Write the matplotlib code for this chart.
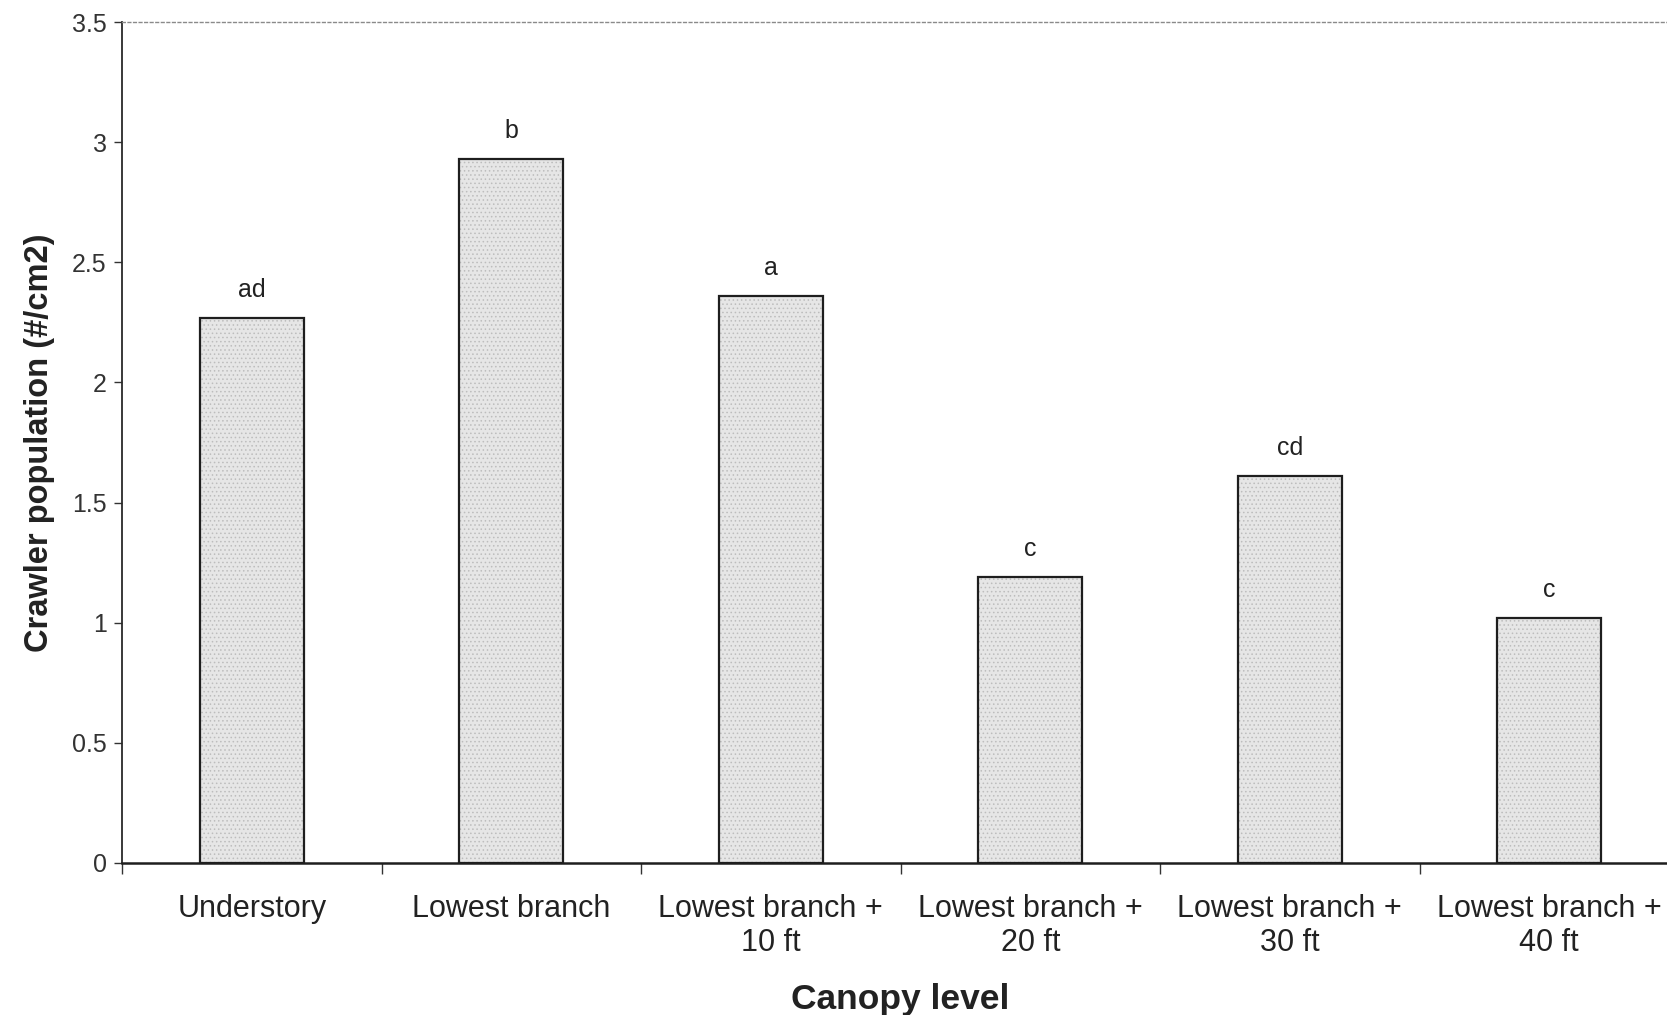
import matplotlib
matplotlib.use("Agg")
import matplotlib.pyplot as plt
import numpy as np

# Crawler counts by canopy level
categories = ["Understory", "Lowest branch", "Lowest branch +\n10 ft",
              "Lowest branch +\n20 ft", "Lowest branch +\n30 ft",
              "Lowest branch +\n40 ft"]
crawlers = [2.27, 2.93, 2.36, 1.19, 1.61, 1.02]
groups = ["ad", "b", "a", "c", "cd", "c"]
yticks = [0, 0.5, 1, 1.5, 2, 2.5, 3, 3.5]
ytick_labels = ["0", "0.5", "1", "1.5", "2", "2.5", "3", "3.5"]

plt.rcParams["font.family"] = ["Liberation Sans", "DejaVu Sans"]
plt.rcParams["hatch.linewidth"] = 0.6

fig = plt.figure(figsize=(16.67, 10.15), dpi=100)
ax = fig.add_axes([0.0732, 0.1498, 0.934, 0.8285])

x = np.arange(len(categories))
width = 0.40

# stippled fill, then crisp outlines
ax.bar(x, crawlers, width=width, color="#e6e6e6", edgecolor="#bdbdbd",
       hatch="....", linewidth=0, zorder=2)
ax.bar(x, crawlers, width=width, fill=False, edgecolor="#1e1e1e",
       linewidth=1.6, zorder=3)

for xi, v, g in zip(x, crawlers, groups):
    ax.annotate(g, (xi, v), xytext=(0, 15), textcoords="offset points",
                ha="center", va="baseline", fontsize=18, color="#222222")

ax.set_xlim(-0.5, len(categories) - 0.5)
ax.set_ylim(0, 3.5)

ax.set_yticks(yticks)
ax.set_yticklabels(ytick_labels, fontsize=18, color="#333333")
ax.tick_params(axis="y", direction="out", length=6, width=1.0,
               color="#333333", pad=5)

ax.set_xticks(x)
ax.set_xticklabels(categories, fontsize=22, color="#222222",
                   linespacing=1.2, va="top")
ax.tick_params(axis="x", which="major", length=0, pad=22)
ax.set_xticks(np.arange(-0.5, len(categories), 1.0), minor=True)
ax.tick_params(axis="x", which="minor", direction="out", length=8,
               width=1.0, color="#333333")

ax.set_ylabel("Crawler population (#/cm2)", fontsize=23.5, fontweight="bold",
              color="#222222", labelpad=12)
ax.set_xlabel("Canopy level", fontsize=25.5, fontweight="bold",
              color="#222222", labelpad=18)

ax.spines["top"].set_linestyle((0, (2, 2)))
ax.spines["top"].set_color("#8a8a8a")
ax.spines["top"].set_linewidth(1.0)
ax.spines["right"].set_visible(False)
ax.spines["left"].set_color("#2a2a2a")
ax.spines["left"].set_linewidth(1.3)
ax.spines["bottom"].set_color("#1e1e1e")
ax.spines["bottom"].set_linewidth(1.8)

fig.savefig("out.png", dpi=100, facecolor="white")
